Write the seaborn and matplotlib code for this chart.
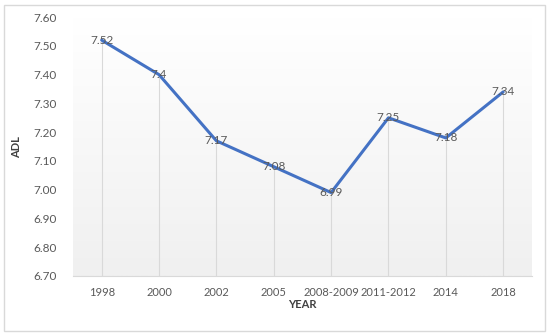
import numpy as np
import pandas as pd
import seaborn as sns
import matplotlib.pyplot as plt
from matplotlib.patches import Rectangle

years = ['1998', '2000', '2002', '2005', '2008-2009', '2011-2012', '2014', '2018']
adl = [7.52, 7.40, 7.17, 7.08, 6.99, 7.25, 7.18, 7.34]
labels = ['7.52', '7.4', '7.17', '7.08', '6.99', '7.25', '7.18', '7.34']
yticks = [6.70, 6.80, 6.90, 7.00, 7.10, 7.20, 7.30, 7.40, 7.50, 7.60]

df = pd.DataFrame({'YEAR': years, 'ADL': adl})

sns.set_style('white')
plt.rcParams['font.family'] = ['Lato', 'DejaVu Sans']

fig = plt.figure(figsize=(5.5, 3.36), dpi=100)
ax = fig.add_axes([0.1327, 0.1786, 0.8343, 0.7704])

# gradient background of plot area (white top -> light grey bottom)
grad = np.linspace(0, 1, 256).reshape(-1, 1)
ax.imshow(grad, extent=(-0.5, 7.5, 6.7, 7.6), aspect='auto',
          cmap=sns.blend_palette(['#ffffff', '#f0f0f0'], as_cmap=True),
          zorder=0, origin='upper')

sns.lineplot(data=df, x='YEAR', y='ADL', color='#4472C4', lw=2.2, ax=ax,
             sort=False, zorder=3)

xs = np.arange(len(years))
ax.vlines(xs, 6.7, adl, color='#d9d9d9', lw=0.8, zorder=2)
for x, y, t in zip(xs, adl, labels):
    ax.text(x, y, t, ha='center', va='center', fontsize=8.5, color='#595959', zorder=4)

ax.set_xlim(-0.5, 7.5)
ax.set_ylim(6.7, 7.6)
ax.set_yticks(yticks)
ax.set_yticklabels([f'{v:.2f}' for v in yticks])
ax.tick_params(axis='both', length=0, labelsize=8.5, labelcolor='#595959')
ax.tick_params(axis='x', labelsize=8)
ax.tick_params(axis='y', pad=12)
ax.tick_params(axis='x', pad=8)
ax.set_xlabel('YEAR', fontsize=8, fontweight='bold', color='#404040', labelpad=1)
ax.set_ylabel('ADL', fontsize=8, fontweight='bold', color='#404040', labelpad=8)
for s in ['top', 'right', 'left']:
    ax.spines[s].set_visible(False)
ax.spines['bottom'].set_color('#d9d9d9')
ax.spines['bottom'].set_linewidth(0.8)

fig.patches.append(Rectangle((0.008, 0.015), 0.982, 0.97, transform=fig.transFigure,
                             fill=False, edgecolor='#d9d9d9', lw=1.0))

fig.savefig('out.png', dpi=100)
